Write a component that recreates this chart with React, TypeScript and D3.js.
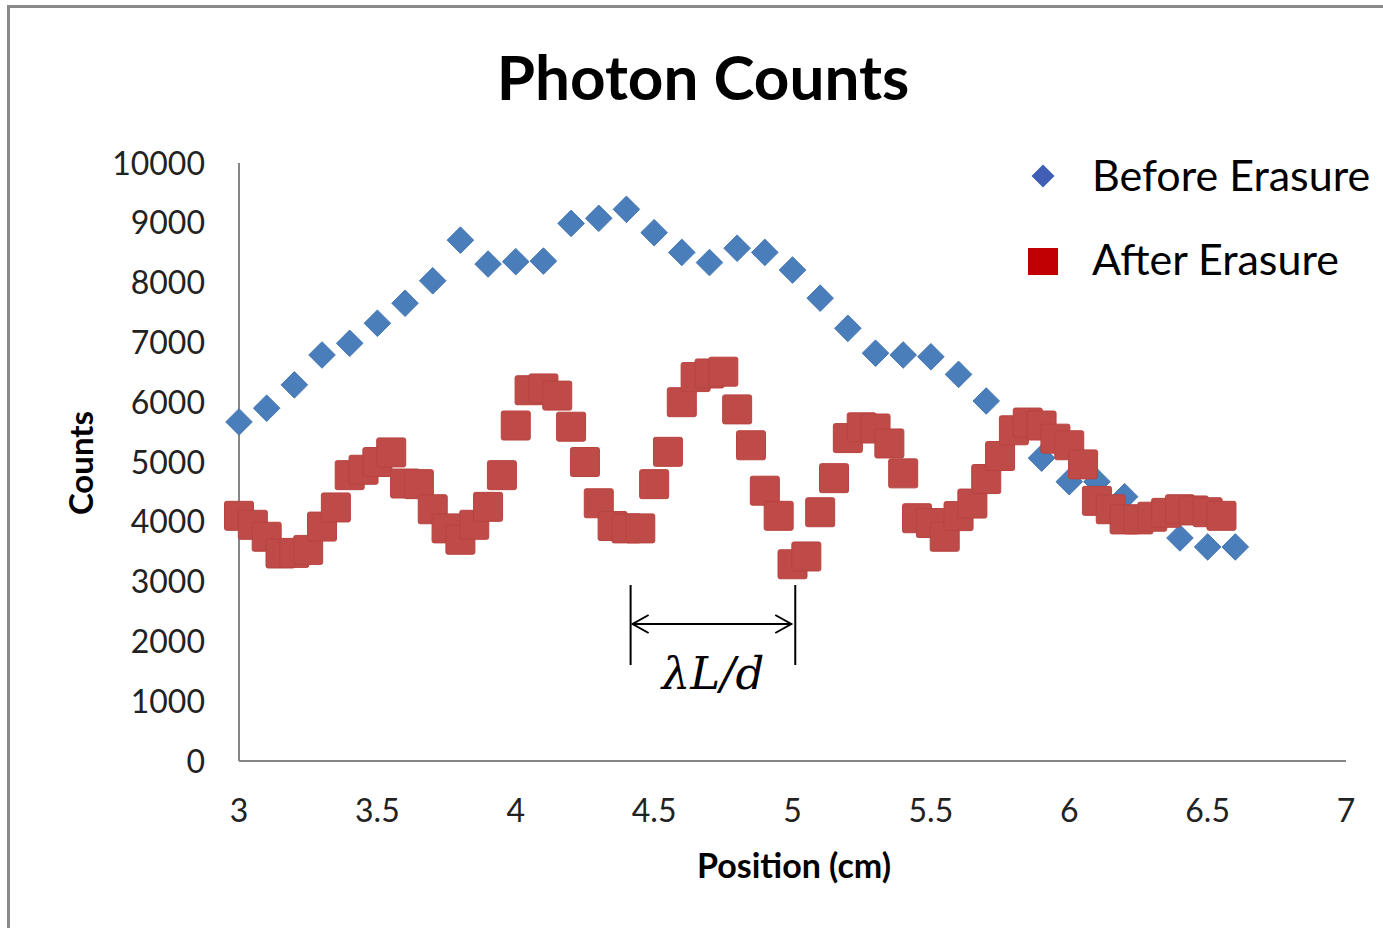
import React from "react";
import * as d3 from "d3";

const beforeX = [3.0, 3.1, 3.2, 3.3, 3.4, 3.5, 3.6, 3.7, 3.8, 3.9, 4.0, 4.1, 4.2, 4.3, 4.4, 4.5, 4.6, 4.7, 4.8, 4.9, 5.0, 5.1, 5.2, 5.3, 5.4, 5.5, 5.6, 5.7, 5.8, 5.9, 6.0, 6.1, 6.2, 6.3, 6.4, 6.5, 6.6];
const beforeY = [5670, 5900, 6290, 6790, 6985, 7320, 7655, 8030, 8710, 8310, 8350, 8360, 8990, 9075, 9225, 8835, 8505, 8335, 8575, 8505, 8210, 7740, 7235, 6820, 6790, 6760, 6465, 6020, 5560, 5065, 4670, 4670, 4420, 4090, 3730, 3580, 3580];

const afterX = [3.0, 3.05, 3.1, 3.15, 3.2, 3.25, 3.3, 3.35, 3.4, 3.45, 3.5, 3.55, 3.6, 3.65, 3.7, 3.75, 3.8, 3.85, 3.9, 3.95, 4.0, 4.05, 4.1, 4.15, 4.2, 4.25, 4.3, 4.35, 4.4, 4.45, 4.5, 4.55, 4.6, 4.65, 4.7, 4.75, 4.8, 4.85, 4.9, 4.95, 5.0, 5.05, 5.1, 5.15, 5.2, 5.25, 5.3, 5.35, 5.4, 5.45, 5.5, 5.55, 5.6, 5.65, 5.7, 5.75, 5.8, 5.85, 5.9, 5.95, 6.0, 6.05, 6.1, 6.15, 6.2, 6.25, 6.3, 6.35, 6.4, 6.45, 6.5, 6.55];
const afterY = [4100, 3950, 3750, 3470, 3480, 3530, 3920, 4240, 4780, 4870, 5000, 5160, 4640, 4630, 4210, 3890, 3700, 3950, 4250, 4780, 5610, 6200, 6230, 6110, 5590, 5000, 4310, 3930, 3890, 3890, 4630, 5170, 6000, 6420, 6480, 6510, 5880, 5280, 4520, 4100, 3290, 3420, 4160, 4730, 5400, 5580, 5560, 5310, 4810, 4060, 3980, 3750, 4095, 4305, 4715, 5100, 5530, 5660, 5610, 5390, 5280, 4960, 4350, 4210, 4040, 4040, 4085, 4150, 4210, 4190, 4160, 4100];

const xTicks = [3, 3.5, 4, 4.5, 5, 5.5, 6, 6.5, 7];
const yTicks = [0, 1000, 2000, 3000, 4000, 5000, 6000, 7000, 8000, 9000, 10000];

const seriesNames = ["Before Erasure", "After Erasure"];
const spacingRange = [4.415, 5.01];

const FONT = "Lato, 'Open Sans', sans-serif";

export default function App() {
  const x = d3.scaleLinear().domain([3, 7]).range([239, 1346]);
  const y = d3.scaleLinear().domain([0, 10000]).range([761, 163]);

  const diamond = d3.symbol().type(d3.symbolDiamond2).size(30 * 30 / 2)();
  const sq = 29;

  const ax1 = x(spacingRange[0]) + 2;
  const ax2 = x(spacingRange[1]) - 4;
  const ay = 624;

  return (
    <svg width={1383} height={928} style={{ position: "absolute", left: 0, top: 0, background: "#fff" }} fontFamily={FONT}>
      <rect x={0} y={0} width={1383} height={928} fill="#fff" />
      <rect x={8.5} y={6.5} width={1500} height={1000} fill="none" stroke="#898989" strokeWidth={3} />

      <text x={703} y={100} textAnchor="middle" fontSize={62} fontWeight={700} fill="#000">Photon Counts</text>

      {/* axes */}
      <line x1={239} x2={239} y1={y(10000)} y2={y(0)} stroke="#868686" strokeWidth={2} />
      <line x1={239} x2={1346} y1={y(0)} y2={y(0)} stroke="#868686" strokeWidth={2} />

      {yTicks.map((t) => (
        <text key={t} x={205} y={y(t)} dy="0.36em" textAnchor="end" fontSize={32} fill="#222">{t}</text>
      ))}
      {xTicks.map((t) => (
        <text key={t} x={x(t)} y={810} dy="0.36em" textAnchor="middle" fontSize={32} fill="#222">{t}</text>
      ))}

      <text transform={`translate(93,${463}) rotate(-90)`} textAnchor="middle" fontSize={33} fontWeight={700} fill="#000">Counts</text>
      <text x={794} y={878} textAnchor="middle" fontSize={34} fontWeight={700} fill="#000">Position (cm)</text>

      {/* Before erasure */}
      {beforeX.map((v, i) => (
        <path key={"b" + i} d={diamond || ""} transform={`translate(${x(v)},${y(beforeY[i])})`} fill="#4A7EBB" stroke="#4677B5" strokeWidth={1} />
      ))}
      {/* After erasure */}
      {afterX.map((v, i) => (
        <rect key={"a" + i} x={x(v) - sq / 2} y={y(afterY[i]) - sq / 2} width={sq} height={sq} rx={2} fill="#BE4B48" stroke="#B8433F" strokeWidth={1} />
      ))}

      {/* annotation */}
      <line x1={x(spacingRange[0])} x2={x(spacingRange[0])} y1={585} y2={665} stroke="#000" strokeWidth={2} />
      <line x1={x(spacingRange[1])} x2={x(spacingRange[1])} y1={585} y2={665} stroke="#000" strokeWidth={2} />
      <line x1={ax1} x2={ax2} y1={ay} y2={ay} stroke="#000" strokeWidth={2} />
      <polyline points={`${ax1 + 16},${ay - 9} ${ax1},${ay} ${ax1 + 16},${ay + 9}`} fill="none" stroke="#000" strokeWidth={2} />
      <polyline points={`${ax2 - 16},${ay - 9} ${ax2},${ay} ${ax2 - 16},${ay + 9}`} fill="none" stroke="#000" strokeWidth={2} />
      <text x={713} y={689} textAnchor="middle" fontSize={45} fontStyle="italic" fontFamily="'DejaVu Serif', 'Liberation Serif', serif" fill="#000">λL/d</text>

      {/* legend */}
      <path d={d3.symbol().type(d3.symbolDiamond2).size(26 * 26 / 2)() || ""} transform="translate(1043,176)" fill="#3F5EB4" />
      <text x={1092} y={176} dy="0.36em" fontSize={43} fill="#000">{seriesNames[0]}</text>
      <rect x={1028} y={248} width={30} height={27} fill="#C00000" />
      <text x={1092} y={260} dy="0.36em" fontSize={43} fill="#000">{seriesNames[1]}</text>
    </svg>
  );
}
